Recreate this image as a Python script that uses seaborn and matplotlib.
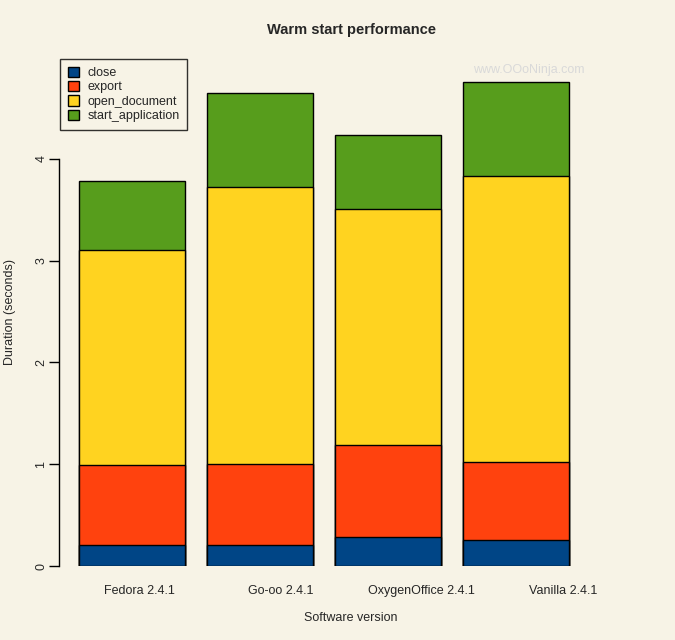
import pandas as pd
import matplotlib
matplotlib.use('Agg')
import matplotlib.pyplot as plt
from matplotlib.patches import Patch
import seaborn as sns

versions = ['Fedora 2.4.1', 'Go-oo 2.4.1', 'OxygenOffice 2.4.1', 'Vanilla 2.4.1']
close = [0.21, 0.21, 0.28, 0.26]
export = [0.78, 0.79, 0.91, 0.76]
open_document = [2.11, 2.72, 2.32, 2.81]
start_application = [0.68, 0.93, 0.72, 0.92]

series_names = ['close', 'export', 'open_document', 'start_application']
colors = ['#004586', '#ff420e', '#ffd320', '#579d1c']
bg = '#f7f3e6'

df = pd.DataFrame({'version': versions, 'close': close, 'export': export,
                   'open_document': open_document, 'start_application': start_application})
# cumulative heights, drawn tallest first so smaller ones sit on top
cum = df[series_names].cumsum(axis=1)
cum['version'] = df['version']

sns.set_style('white')
plt.rcParams['font.family'] = ['Liberation Sans', 'DejaVu Sans']

fig = plt.figure(figsize=(6.75, 6.4), dpi=100, facecolor=bg)
ax = fig.add_axes([59 / 675, 1 - 566 / 640, (644 - 59) / 675, (566 - 57) / 640])
ax.set_facecolor(bg)

for name, col in reversed(list(zip(series_names, colors))):
    sns.barplot(data=cum, x='version', y=name, color=col, width=0.833,
                edgecolor='black', linewidth=1, errorbar=None, saturation=1, ax=ax)

ax.set_xlim(-0.57, 4.0)
ax.set_ylim(0, 5)
ax.set_yticks([0, 1, 2, 3, 4])
ax.set_yticklabels(['0', '1', '2', '3', '4'], rotation=90, va='center')
ax.tick_params(axis='y', left=True, length=7, width=1, color='black', pad=1.5, labelsize=9)
# the version names sit a little wider apart than the bars in the original
ax.set_xticks([0.055 + 1.104 * i for i in range(len(versions))])
ax.set_xticklabels(versions)
ax.tick_params(axis='x', bottom=False, length=0, pad=14, labelsize=9)

for s in ['top', 'right', 'bottom']:
    ax.spines[s].set_visible(False)
ax.spines['left'].set_bounds(0, 4)
ax.spines['left'].set_color('black')
ax.spines['left'].set_linewidth(1)

ax.set_xlabel('')
ax.set_ylabel('')
fig.text(351 / 675, 1 - 618 / 640, 'Software version', ha='center', va='center', fontsize=9)
fig.text(10 / 675, 1 - 312 / 640, 'Duration (seconds)', ha='center', va='center',
         rotation=90, fontsize=9)
fig.text(352 / 675, 1 - 30 / 640, 'Warm start performance', ha='center', va='center',
         fontsize=10.5, fontweight='bold')
fig.text(529 / 675, 1 - 70 / 640, 'www.OOoNinja.com', ha='center', va='center',
         fontsize=9, color='#d9d9d9')

handles = [Patch(facecolor=c, edgecolor='black', linewidth=1) for c in colors]
leg = ax.legend(handles, series_names, loc='upper left', bbox_to_anchor=(0.002, 0.996),
                frameon=True, fancybox=False, fontsize=9, handlelength=0.9,
                handleheight=0.9, handletextpad=0.7, labelspacing=0.15,
                borderpad=0.6, borderaxespad=0)
leg.get_frame().set_edgecolor('black')
leg.get_frame().set_facecolor(bg)
leg.get_frame().set_linewidth(1)

fig.savefig('out.png', dpi=100, facecolor=bg)
